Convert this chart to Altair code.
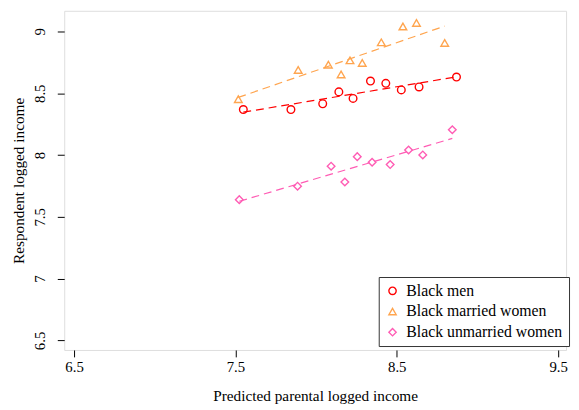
import altair as alt
import pandas as pd

groups = ["Black men", "Black married women", "Black unmarried women"]
colors = ["#FF0000", "#FFA54F", "#FF5CB4"]
shapes = ["circle", "triangle-up", "diamond"]

men_x = [7.549, 7.844, 8.041, 8.141, 8.229, 8.337, 8.432, 8.528, 8.638, 8.870]
men_y = [8.368, 8.368, 8.415, 8.511, 8.458, 8.599, 8.580, 8.527, 8.551, 8.631]

married_x = [7.518, 7.889, 8.076, 8.155, 8.210, 8.286, 8.404, 8.538, 8.622, 8.797]
married_y = [8.452, 8.689, 8.731, 8.652, 8.766, 8.745, 8.912, 9.040, 9.069, 8.907]

unmarried_x = [7.524, 7.885, 8.093, 8.178, 8.255, 8.347, 8.459, 8.573, 8.661, 8.844]
unmarried_y = [7.639, 7.748, 7.910, 7.782, 7.987, 7.942, 7.923, 8.041, 8.001, 8.205]

x_ticks = [6.5, 7.5, 8.5, 9.5]
y_ticks = [6.5, 7, 7.5, 8, 8.5, 9]

rows = []
for g, xs, ys in zip(groups, [men_x, married_x, unmarried_x], [men_y, married_y, unmarried_y]):
    for a, b in zip(xs, ys):
        rows.append({"x": a, "y": b, "group": g})
df = pd.DataFrame(rows)

FONT = "Liberation Serif"

xenc = alt.X("x:Q", scale=alt.Scale(domain=[6.439, 9.549], nice=False, zero=False),
             axis=alt.Axis(values=x_ticks, format=".1f", title="Predicted parental logged income",
                           grid=False, domain=False, tickSize=7, tickColor="black",
                           labelFont=FONT, labelFontSize=15, labelColor="black", labelPadding=3,
                           titleFont=FONT, titleFontSize=15.5, titleFontWeight="normal",
                           titleColor="black", titlePadding=14))
yenc = alt.Y("y:Q", scale=alt.Scale(domain=[6.423, 9.167], nice=False, zero=False),
             axis=alt.Axis(values=y_ticks, format="~g", title="Respondent logged income",
                           grid=False, domain=False, tickSize=7, tickColor="black",
                           labelFont=FONT, labelFontSize=15, labelColor="black",
                           labelAngle=270, labelAlign="center", labelBaseline="bottom",
                           labelPadding=10,
                           titleFont=FONT, titleFontSize=15.5, titleFontWeight="normal",
                           titleColor="black", titlePadding=6))

legend = alt.Legend(title=None, orient="none", legendX=319, legendY=270,
                    strokeColor="#333333", fillColor="white", padding=6,
                    labelFont=FONT, labelFontSize=16, labelColor="black",
                    symbolSize=55, symbolStrokeWidth=1.4, rowPadding=5,
                    labelOffset=6, cornerRadius=0)

points = alt.Chart(df).mark_point(filled=False, strokeWidth=1.4, size=60, opacity=1).encode(
    x=xenc,
    y=yenc,
    color=alt.Color("group:N", scale=alt.Scale(domain=groups, range=colors), legend=legend),
    shape=alt.Shape("group:N", scale=alt.Scale(domain=groups, range=shapes), legend=legend),
)

line_layers = []
for g, c in zip(groups, colors):
    line_layers.append(
        alt.Chart(df).transform_filter(alt.datum.group == g)
        .transform_regression("x", "y")
        .mark_line(strokeDash=[8, 5], strokeWidth=1.2, color=c)
        .encode(x=alt.X("x:Q"), y=alt.Y("y:Q"))
    )

chart = alt.layer(*line_layers, points).properties(
    width=509, height=344,
    autosize=alt.AutoSizeParams(type="none"),
    padding={"left": 57, "top": 0, "right": 5, "bottom": 55},
).configure_view(stroke="#222222", strokeWidth=1.3).configure(background="white")

chart.save("out.html", embed_options={"renderer": "svg", "actions": False})
